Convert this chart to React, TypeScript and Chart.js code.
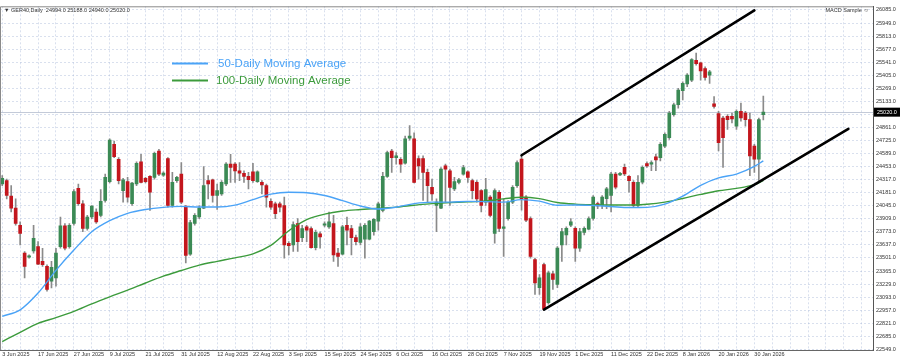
import React, { useEffect, useRef } from "react";
import { Chart, registerables } from "chart.js";

Chart.register(...registerables);

// ---- Daily candles (GER40) ----
const open = [
  24272, 24306, 24145, 24021, 23842, 23551, 23509, 23575, 23619, 23465,
  23413, 23259, 23293, 23619, 23836, 23619, 23860, 24227, 24066, 23808,
  23928, 23980, 23945, 24100, 24296, 24684, 24529, 24203, 24296, 24066,
  24272, 24502, 24330, 24351, 24340, 24615, 24364, 24536, 24048, 24306,
  24375, 24042, 23540, 23860, 23928, 24021, 24306, 24316, 24152, 24169,
  24272, 24478, 24478, 24409, 24382, 24351, 24399, 24296, 24289, 24255,
  24090, 24066, 24066, 24048, 23654, 23636, 23860, 23712, 23825, 23808,
  23609, 23753, 23842, 23825, 23860, 23551, 23540, 23842, 23808, 23712,
  23664, 23698, 23698, 23774, 23884, 23997, 24351, 24615, 24546, 24529,
  24488, 24749, 24742, 24536, 24536, 24392, 24237, 24048, 24021, 24461,
  24409, 24220, 24289, 24375, 24399, 24306, 24289, 24203, 24083, 24134,
  23757, 24186, 23808, 23911, 24083, 24255, 24530, 24135, 23912, 23483,
  23191, 23431, 23036, 23335, 23225, 23637, 23740, 23843, 23809, 23603,
  23768, 23802, 23912, 24067, 24049, 24118, 24152, 24376, 24365, 24444,
  24352, 24290, 24049, 24290, 24485, 24479, 24554, 24547, 24667, 24753,
  24994, 25097, 25244, 25313, 25354, 25560, 25533, 25474, 25406, 25107,
  25004, 24959, 24977, 24977, 24874, 25028, 25011, 24942, 24667, 24530,
  24994,
];
const high = [
  24358, 24323, 24255, 24117, 23877, 23568, 23533, 23842, 23671, 23602,
  23430, 23465, 23602, 23928, 23860, 23860, 24213, 24272, 24100, 23945,
  24048, 24014, 24213, 24375, 24742, 24718, 24546, 24330, 24340, 24289,
  24502, 24581, 24340, 24358, 24605, 24632, 24399, 24546, 24392, 24351,
  24495, 24048, 23894, 23963, 24048, 24454, 24358, 24323, 24272, 24306,
  24495, 24581, 24495, 24495, 24409, 24392, 24488, 24409, 24306, 24272,
  24117, 24083, 24083, 24134, 23671, 23877, 23911, 23842, 23842, 23825,
  23791, 23774, 23877, 23980, 23945, 23602, 23842, 23928, 23842, 23739,
  23860, 23860, 23894, 23911, 24083, 24392, 24615, 24632, 24598, 24546,
  24770, 24880, 24804, 24564, 24564, 24426, 24323, 24117, 24443, 24478,
  24426, 24340, 24330, 24467, 24409, 24323, 24306, 24213, 24330, 24152,
  24220, 24203, 24117, 24100, 24255, 24512, 24571, 24152, 23929, 23500,
  23328, 23448, 23363, 23363, 23620, 23809, 23826, 23912, 23826, 23809,
  23826, 23929, 24152, 24084, 24152, 24238, 24393, 24393, 24393, 24479,
  24358, 24307, 24358, 24461, 24503, 24513, 24582, 24702, 24805, 25028,
  25114, 25268, 25337, 25423, 25577, 25636, 25543, 25492, 25457, 25183,
  25028, 24977, 24994, 25011, 25045, 25114, 25028, 25011, 24685, 24959,
  25188,
];
const low = [
  24255, 24117, 23980, 23842, 23636, 23293, 23499, 23551, 23430, 23413,
  23156, 23190, 23207, 23602, 23585, 23602, 23842, 24048, 23774, 23791,
  23911, 23860, 23928, 24083, 24282, 24546, 24272, 24083, 24083, 24048,
  24255, 24282, 24282, 23997, 24323, 24358, 24351, 24031, 24031, 24289,
  24066, 23448, 23527, 23842, 23911, 24014, 24117, 24083, 24007, 24152,
  24255, 24289, 24289, 24306, 24289, 24220, 24289, 24289, 24169, 24031,
  24007, 23911, 23980, 23499, 23533, 23568, 23568, 23671, 23671, 23602,
  23585, 23602, 23825, 23808, 23465, 23413, 23533, 23636, 23533, 23636,
  23636, 23499, 23688, 23739, 23791, 23980, 24340, 24392, 24478, 24392,
  24478, 24728, 24282, 24323, 24100, 24083, 24100, 23774, 24014, 24083,
  24048, 24203, 24272, 24364, 24289, 24117, 24083, 23980, 24048, 23928,
  23654, 23774, 23516, 23894, 24066, 24237, 23998, 23878, 23500, 23122,
  23122, 22957, 23019, 23174, 23191, 23466, 23637, 23826, 23466, 23569,
  23740, 23792, 23895, 24015, 24015, 24015, 23981, 24221, 24358, 24358,
  24187, 24032, 24032, 24272, 24444, 24410, 24410, 24513, 24650, 24736,
  24977, 25062, 25148, 25286, 25337, 25509, 25354, 25354, 25320, 25062,
  24616, 24444, 24839, 24908, 24839, 24925, 24874, 24358, 24393, 24290,
  24940,
];
const close = [
  24330, 24152, 24021, 23860, 23757, 23413, 23523, 23705, 23437, 23430,
  23173, 23403, 23551, 23836, 23602, 23842, 24193, 24066, 23808, 23928,
  24042, 23877, 24090, 24340, 24728, 24557, 24306, 24316, 24134, 24282,
  24488, 24289, 24296, 24186, 24591, 24375, 24385, 24048, 24289, 24340,
  24083, 23527, 23870, 23945, 24021, 24255, 24272, 24152, 24203, 24289,
  24478, 24443, 24409, 24385, 24351, 24316, 24306, 24399, 24261, 24134,
  24031, 23963, 24031, 23636, 23630, 23849, 23671, 23808, 23791, 23609,
  23767, 23719, 23856, 23877, 23533, 23516, 23825, 23791, 23712, 23671,
  23825, 23842, 23884, 23904, 24066, 24351, 24598, 24546, 24564, 24478,
  24742, 24770, 24289, 24461, 24392, 24255, 24169, 24083, 24426, 24426,
  24237, 24296, 24316, 24443, 24340, 24203, 24117, 24048, 24213, 23945,
  24203, 23808, 23825, 24083, 24237, 24495, 24118, 23895, 23517, 23242,
  23294, 22968, 23345, 23277, 23603, 23775, 23809, 23878, 23603, 23775,
  23809, 23912, 24135, 24043, 24135, 24221, 24376, 24238, 24382, 24376,
  24307, 24049, 24290, 24444, 24461, 24496, 24523, 24685, 24788, 25011,
  25097, 25251, 25320, 25406, 25567, 25526, 25450, 25382, 25440, 25080,
  24702, 24753, 24942, 24949, 25028, 24959, 24942, 24564, 24530, 24942,
  25020,
];

// ---- Moving averages (sampled along the bar index) ----
const maIndex = [
  0, 4, 8, 12, 16, 20, 24, 28, 32, 36, 40, 44, 48, 52, 56, 60, 64, 68, 72, 76,
  80, 84, 88, 92, 96, 100, 104, 108, 112, 116, 120, 124, 128, 132, 136, 140,
  144, 148, 152, 156, 160, 164, 168, 170,
];
const ma50 = [
  22893, 22960, 23135, 23372, 23583, 23774, 23889, 23966, 24006, 24028,
  24038, 24032, 24032, 24052, 24109, 24166, 24186, 24181, 24152, 24098,
  24042, 24011, 24030, 24067, 24083, 24083, 24090, 24088, 24083, 24109,
  24093, 24050, 24053, 24047, 24037, 24026, 24028, 24062, 24145, 24258,
  24336, 24374, 24454, 24513,
];
const ma100 = [
  22630, 22726, 22820, 22879, 22944, 23023, 23096, 23166, 23240, 23311,
  23370, 23427, 23466, 23502, 23544, 23632, 23785, 23900, 23957, 23990,
  24006, 24019, 24031, 24050, 24067, 24077, 24085, 24096, 24117, 24134,
  24119, 24079, 24062, 24055, 24052, 24052, 24061, 24083, 24121, 24163,
  24201, 24226, 24265, 24307,
];

// ---- Channel lines (bar index, price) ----
const upperIdx = [116, 168];
const upperVal = [24571, 26080];
const lowerIdx = [121, 189];
const lowerVal = [22962, 24846];

// ---- Axis labels ----
const xTickLabels = [
  "3 Jun 2025", "17 Jun 2025", "27 Jun 2025", "9 Jul 2025", "21 Jul 2025",
  "31 Jul 2025", "12 Aug 2025", "22 Aug 2025", "3 Sep 2025", "15 Sep 2025",
  "24 Sep 2025", "6 Oct 2025", "16 Oct 2025", "28 Oct 2025", "7 Nov 2025",
  "19 Nov 2025", "1 Dec 2025", "11 Dec 2025", "22 Dec 2025", "8 Jan 2026",
  "20 Jan 2026", "30 Jan 2026",
];
const yTickValues = [
  26085, 25949, 25813, 25677, 25541, 25405, 25269, 25133, 24997, 24861,
  24725, 24589, 24453, 24317, 24181, 24045, 23909, 23773, 23637, 23501,
  23365, 23229, 23093, 22957, 22821, 22685, 22549,
];
const legendLabels = ["50-Daily Moving Average", "100-Daily Moving Average"];
const headerText = "\u25BC GER40,Daily  24994.0 25188.0 24940.0 25020.0";
const eaText = "MACD Sample \u263A";

const SLOTS = 195;
const GREEN = "#3b8a55";
const RED = "#c3161d";
const WICK = "#8a8a8a";
const BLUE = "#4aa3f7";
const MAGREEN = "#3c9b3c";
const GRID = "rgba(165,182,215,0.42)";
const FONT = '"Liberation Sans", Arial, sans-serif';

export default function App() {
  const ref = useRef<HTMLCanvasElement | null>(null);

  useEffect(() => {
    if (!ref.current) return;
    const labels = Array.from({ length: SLOTS }, (_, i) => i);
    const lastClose = close[close.length - 1];

    const overlay = {
      id: "overlay",
      beforeDatasetsDraw(chart: any) {
        const { ctx, chartArea: a } = chart;
        const y = Math.round(chart.scales.y.getPixelForValue(lastClose)) + 0.5;
        ctx.save();
        ctx.strokeStyle = "rgba(170,180,200,0.7)";
        ctx.lineWidth = 1;
        ctx.beginPath();
        ctx.moveTo(a.left, y);
        ctx.lineTo(a.right, y);
        ctx.stroke();
        ctx.restore();
      },
      afterDraw(chart: any) {
        const { ctx, chartArea: a } = chart;
        ctx.save();
        ctx.strokeStyle = "#8a8a8a";
        ctx.lineWidth = 1;
        ctx.beginPath();
        ctx.moveTo(a.left + 0.5, a.bottom);
        ctx.lineTo(a.left + 0.5, a.top + 0.5);
        ctx.lineTo(a.right, a.top + 0.5);
        ctx.stroke();

        ctx.font = `5.5px ${FONT}`;
        ctx.fillStyle = "#333";
        ctx.textBaseline = "middle";
        ctx.textAlign = "left";
        ctx.fillText(headerText, a.left + 4, a.top + 4);
        ctx.textAlign = "right";
        ctx.fillText(eaText, a.right - 4, a.top + 4);

        // legend
        const rows = [
          { c: BLUE, y: 63.5, tx: 218 },
          { c: MAGREEN, y: 80.5, tx: 216 },
        ];
        rows.forEach((r, k) => {
          ctx.strokeStyle = r.c;
          ctx.lineWidth = 2;
          ctx.beginPath();
          ctx.moveTo(172, r.y);
          ctx.lineTo(208, r.y);
          ctx.stroke();
          ctx.fillStyle = r.c;
          ctx.font = `11.5px ${FONT}`;
          ctx.textAlign = "left";
          ctx.textBaseline = "middle";
          ctx.fillText(legendLabels[k], r.tx, r.y + 0.5);
        });

        // current price box
        const py = chart.scales.y.getPixelForValue(lastClose);
        ctx.fillStyle = "#000";
        ctx.fillRect(a.right + 1, py - 4.5, 26, 9);
        ctx.fillStyle = "#fff";
        ctx.font = `5.5px ${FONT}`;
        ctx.textAlign = "left";
        ctx.fillText(lastClose.toFixed(1), a.right + 4, py);
        ctx.restore();
      },
    };

    const chart = new Chart(ref.current, {
      type: "bar",
      data: {
        labels,
        datasets: [
          {
            type: "line",
            data: maIndex.map((x, k) => ({ x, y: ma50[k] })),
            borderColor: BLUE,
            borderWidth: 1.4,
            pointRadius: 0,
            cubicInterpolationMode: "monotone",
            order: 1,
          },
          {
            type: "line",
            data: maIndex.map((x, k) => ({ x, y: ma100[k] })),
            borderColor: MAGREEN,
            borderWidth: 1.4,
            pointRadius: 0,
            cubicInterpolationMode: "monotone",
            order: 1,
          },
          {
            type: "line",
            data: upperIdx.map((x, k) => ({ x, y: upperVal[k] })),
            borderColor: "#000",
            borderWidth: 2.6,
            pointRadius: 0,
            borderCapStyle: "round",
            order: 0,
          },
          {
            type: "line",
            data: lowerIdx.map((x, k) => ({ x, y: lowerVal[k] })),
            borderColor: "#000",
            borderWidth: 2.6,
            pointRadius: 0,
            borderCapStyle: "round",
            order: 0,
          },
          {
            type: "bar",
            data: open.map((o, i) => [Math.min(o, close[i]), Math.max(o, close[i])]),
            backgroundColor: open.map((o, i) => (close[i] >= o ? GREEN : RED)),
            barThickness: 3,
            grouped: false,
            minBarLength: 1,
            order: 5,
          },
          {
            type: "bar",
            data: low.map((l, i) => [l, high[i]]),
            backgroundColor: WICK,
            barThickness: 1,
            grouped: false,
            order: 6,
          },
        ] as any,
      },
      options: {
        animation: false,
        responsive: false,
        maintainAspectRatio: false,
        devicePixelRatio: 1,
        layout: { padding: { top: 2, left: 0, right: 0, bottom: 0 } },
        plugins: { legend: { display: false }, tooltip: { enabled: false } },
        scales: {
          x: {
            type: "category",
            offset: true,
            grid: { offset: false, color: GRID, drawTicks: false },
            border: { display: true, color: "#666", dash: [2, 2] },
            ticks: {
              autoSkip: false,
              maxRotation: 0,
              minRotation: 0,
              align: "start",
              padding: 1,
              color: "#333",
              font: { size: 5.5, family: FONT },
              callback: (v: any) => {
                const n = Number(v);
                return n % 8 === 0 ? xTickLabels[n / 8] ?? "" : "";
              },
            },
            afterBuildTicks: (s: any) => {
              s.ticks = s.ticks.filter((t: any) => t.value % 4 === 0);
            },
            afterFit: (s: any) => {
              s.height = 10;
            },
          },
          y: {
            position: "right",
            min: 22542,
            max: 26123,
            grid: { color: GRID, drawTicks: false },
            border: { display: true, color: "#555", dash: [2, 2] },
            ticks: {
              padding: 3,
              color: "#333",
              font: { size: 5.5, family: FONT },
              callback: (v: any) => Number(v).toFixed(1),
            },
            afterBuildTicks: (s: any) => {
              s.ticks = yTickValues.map((v) => ({ value: v }));
            },
            afterFit: (s: any) => {
              s.width = 27;
            },
          },
        },
      } as any,
      plugins: [overlay],
    });
    return () => chart.destroy();
  }, []);

  return (
    <div style={{ position: "fixed", left: 0, top: 0, width: 900, height: 360, background: "#fff" }}>
      <canvas ref={ref} width={900} height={360} style={{ display: "block", width: 900, height: 360 }} />
    </div>
  );
}
